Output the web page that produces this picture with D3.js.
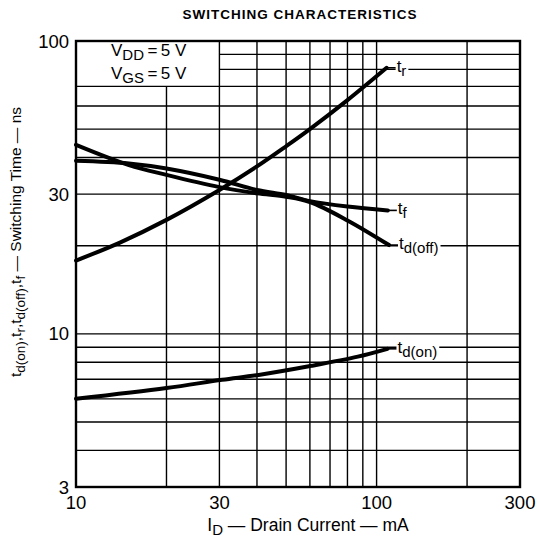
<!DOCTYPE html>
<html><head><meta charset="utf-8">
<script src="https://cdn.jsdelivr.net/npm/d3@7"></script>
<style>body{margin:0;background:#fff}svg{display:block}text{font-family:"Liberation Sans",Arial,sans-serif;fill:#000}</style>
</head><body><svg id="c" width="540" height="541"></svg>
<script>
// ---- data ----
const trX=[10,14,20,30,40,50,60,80,108];
const trY=[17.8,20.5,24.5,31,37.3,43.7,50,62.8,81];
const tfX=[10,15,20,30,40,50,60,80,109];
const tfY=[39.0,38.2,36.7,33.6,31.0,29.8,28.4,27.2,26.4];
const tdoffX=[10,15,20,30,40,50,60,80,110];
const tdoffY=[44.2,37.7,34.9,31.7,30.2,29.4,28.2,24.4,20.1];
const tdonX=[10,20,30.6,40.5,60.8,86.6,108.7];
const tdonY=[6.0,6.53,6.97,7.24,7.78,8.36,8.89];
const xTicks=[10,30,100,300];
const yTicks=[3,10,30,100];
const xGrid=[20,30,40,50,60,70,80,90,100,200];
const yGrid=[4,5,6,7,8,9,10,20,30,40,50,60,70,80,90];
const seriesNames=[["t","r"],["t","f"],["t","d(off)"],["t","d(on)"]];

// ---- layout ----
const L=76,R=520,T=41,B=487;
const svg=d3.select("#c");
const x=d3.scaleLog().domain([10,300]).range([L,R]);
const y=d3.scaleLog().domain([3,100]).range([B,T]);
const boxX=30, boxY=70; // note box corner in data units

const g=svg.append("g");
g.selectAll(".vg").data(xGrid).join("line")
 .attr("x1",d=>x(d)).attr("x2",d=>x(d))
 .attr("y1",d=>d<boxX?y(boxY):T).attr("y2",B)
 .attr("stroke","#000").attr("stroke-width",1.4);
g.selectAll(".hg").data(yGrid).join("line")
 .attr("y1",d=>y(d)).attr("y2",d=>y(d))
 .attr("x1",d=>d>boxY?x(boxX):L).attr("x2",R)
 .attr("stroke","#000").attr("stroke-width",1.4);
g.append("rect").attr("x",L).attr("y",T).attr("width",R-L).attr("height",B-T)
 .attr("fill","none").attr("stroke","#000").attr("stroke-width",2.4);

const series=[[trX,trY],[tfX,tfY],[tdoffX,tdoffY],[tdonX,tdonY]];
const labG=svg.append("g");
series.forEach((s,i)=>{
  const xe=x(s[0][s[0].length-1]), ye=y(s[1][s[1].length-1]);
  const t=labG.append("text").attr("x",xe+10).attr("y",ye+4).attr("font-size",17);
  t.append("tspan").text(seriesNames[i][0]);
  t.append("tspan").attr("dy",4).attr("font-size",15).text(seriesNames[i][1]);
  const bb=t.node().getBBox();
  labG.insert("rect","text").attr("x",bb.x-1).attr("y",bb.y).attr("width",bb.width+3).attr("height",bb.height).attr("fill","#fff");
  labG.append("line").attr("x1",xe).attr("x2",xe+9).attr("y1",ye).attr("y2",ye).attr("stroke","#000").attr("stroke-width",1.6);
});

const line=d3.line().curve(d3.curveCatmullRom.alpha(0.5));
series.forEach(s=>{
  svg.append("path").attr("d",line(s[0].map((v,k)=>[x(v),y(s[1][k])])))
   .attr("fill","none").attr("stroke","#000").attr("stroke-width",4).attr("stroke-linecap","round");
});

svg.selectAll(".xt").data(xTicks).join("text").attr("x",d=>x(d)).attr("y",509)
 .attr("text-anchor","middle").attr("font-size",18.5).text(d=>d);
svg.selectAll(".yt").data(yTicks).join("text").attr("x",69).attr("y",d=>y(d)+6.5)
 .attr("text-anchor","end").attr("font-size",18.5).text(d=>d);

function sub(sel,main,s,rest){sel.append("tspan").text(main);sel.append("tspan").attr("dy",4).attr("font-size",15).text(s);sel.append("tspan").attr("dy",-4).text(rest);}
sub(svg.append("text").attr("x",111).attr("y",56).attr("font-size",17),"V","DD","\u2009=\u20095 V");
sub(svg.append("text").attr("x",111).attr("y",79).attr("font-size",17),"V","GS","\u2009=\u20095 V");

svg.append("text").attr("x",300).attr("y",19).attr("text-anchor","middle").attr("font-size",13.5)
 .attr("font-weight","bold").attr("letter-spacing",1).text("SWITCHING CHARACTERISTICS");

const xl=svg.append("text").attr("x",308).attr("y",531).attr("text-anchor","middle").attr("font-size",17.5);
xl.append("tspan").text("I");xl.append("tspan").attr("dy",4).attr("font-size",15).text("D");
xl.append("tspan").attr("dy",-4).text(" \u2014 Drain Current \u2014 mA");

const yl=svg.append("text").attr("transform","translate(21,242) rotate(-90)").attr("text-anchor","middle").attr("font-size",15.5);
[["t","d(on)",","],["t","r",","],["t","d(off)",","],["t","f"," \u2014 Switching Time \u2014 ns"]].forEach(p=>{
  yl.append("tspan").text(p[0]);
  yl.append("tspan").attr("dy",4).attr("font-size",13.5).text(p[1]);
  yl.append("tspan").attr("dy",-4).text(p[2]);
});
</script></body></html>
